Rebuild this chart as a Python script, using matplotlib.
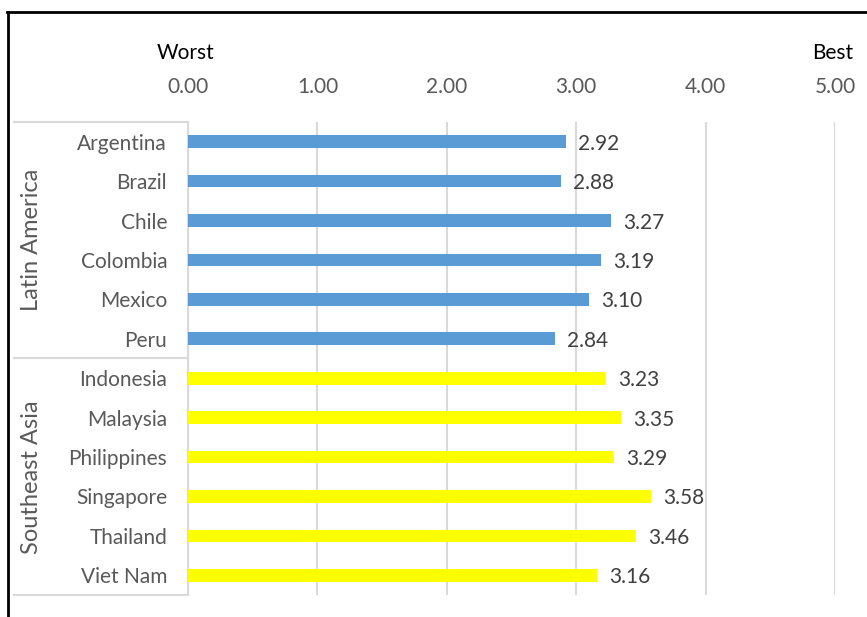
import matplotlib
matplotlib.use("Agg")
import matplotlib.pyplot as plt
from matplotlib.lines import Line2D
from matplotlib.transforms import offset_copy

plt.rcParams['font.family'] = ['Lato', 'DejaVu Sans']

countries = ["Argentina", "Brazil", "Chile", "Colombia", "Mexico", "Peru",
             "Indonesia", "Malaysia", "Philippines", "Singapore", "Thailand", "Viet Nam"]
scores = [2.92, 2.88, 3.27, 3.19, 3.10, 2.84,
          3.23, 3.35, 3.29, 3.58, 3.46, 3.16]
regions = ["Latin America", "Southeast Asia"]
region_sizes = [6, 6]
region_colors = ["#5B9BD5", "#FFFF00"]
xticks = [0, 1, 2, 3, 4, 5]

W, H = 867, 617
fig = plt.figure(figsize=(W / 100, H / 100), dpi=100)
ax = fig.add_axes([188 / W, 1 - 595 / H, (835 - 188) / W, (595 - 122) / H])

colors = []
for c, n in zip(region_colors, region_sizes):
    colors += [c] * n

ypos = list(range(len(countries)))
ax.barh(ypos, scores, height=0.32, color=colors, zorder=3)
label_tf = offset_copy(ax.transData, fig=fig, x=12, y=-2, units="dots")
for y, v in zip(ypos, scores):
    ax.text(v, y, f"{v:.2f}", va="center", ha="left", transform=label_tf,
            fontsize=15, color="#404040", zorder=4)

ax.set_xlim(0, 5)
ax.set_ylim(len(countries) - 0.5, -0.5)
ax.set_xticks(xticks)
ax.set_xticklabels([f"{t:.2f}" for t in xticks], fontsize=15, color="#595959")
ax.xaxis.tick_top()
ax.tick_params(axis="x", length=0, pad=18)
ax.set_yticks(ypos)
ax.set_yticklabels(countries, fontsize=15, color="#595959")
ax.tick_params(axis="y", length=0, pad=15)
ax.grid(axis="x", color="#D9D9D9", linewidth=1.5, zorder=0)
for s in ["top", "right", "bottom"]:
    ax.spines[s].set_visible(False)
ax.spines["left"].set_color("#D9D9D9")
ax.spines["left"].set_linewidth(1.5)

# Axis end captions
fig.text(186 / W, 1 - 53 / H, "Worst", ha="center", va="center", fontsize=15, color="black")
fig.text(833 / W, 1 - 53 / H, "Best", ha="center", va="center", fontsize=15, color="black")

# Region grouping box on the left
x0, x1 = 14 / W, 188 / W
box_y = [122, 358, 595]
for y in box_y:
    fig.add_artist(Line2D([x0, x1], [1 - y / H, 1 - y / H], color="#D9D9D9", linewidth=1.5))
start = 0
for name, n in zip(regions, region_sizes):
    top = 122 + start * (473 / 12)
    bot = 122 + (start + n) * (473 / 12)
    fig.text(32 / W, 1 - (top + bot) / 2 / H, name, rotation=90, ha="center",
             va="center", fontsize=17, color="#595959")
    start += n

# Outer frame
fig.add_artist(Line2D([7 / W, 1], [1 - 12 / H, 1 - 12 / H], color="black", linewidth=2))
fig.add_artist(Line2D([8 / W, 8 / W], [0, 1 - 12 / H], color="black", linewidth=2))

fig.savefig("out.png", dpi=100)
